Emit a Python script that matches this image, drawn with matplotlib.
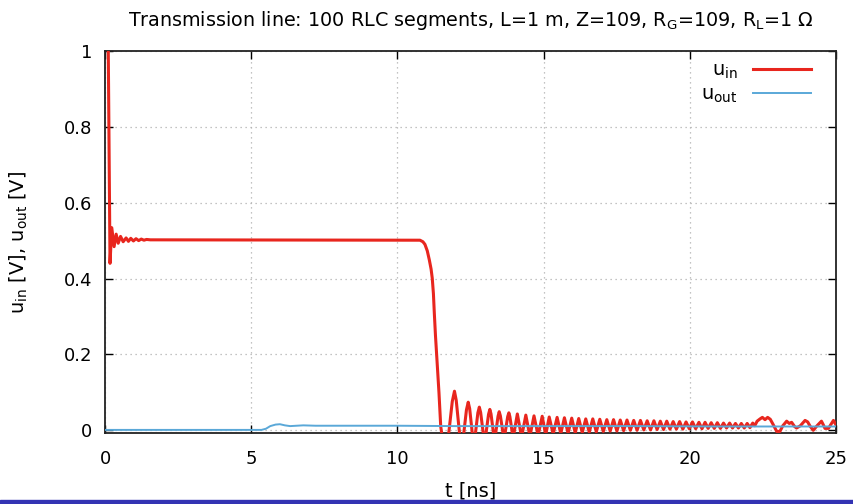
"""Transmission line step response: u_in and u_out over time."""

import matplotlib
matplotlib.use("Agg")
import matplotlib.pyplot as plt
from matplotlib.patches import Rectangle
from matplotlib.ticker import FuncFormatter


# start transient, plateau and falling edge of u_in (t in ns, u in V)
IN_T_HEAD = [0.02, 0.10, 0.17, 0.23, 0.31, 0.38, 0.45, 0.53, 0.62, 0.72,
             0.80, 0.88, 0.97, 1.06, 1.15, 1.24, 1.33, 1.42, 1.55,
             10.77, 10.87, 10.94, 11.02, 11.09, 11.15, 11.19, 11.23, 11.26, 11.30,
             11.34, 11.42, 11.48, 11.65]
IN_U_HEAD = [1.5, 1.1, 0.44, 0.534, 0.484, 0.517, 0.493, 0.511, 0.497, 0.507,
             0.498, 0.506, 0.499, 0.505, 0.500, 0.504, 0.501, 0.503, 0.502,
             0.501, 0.497, 0.490, 0.473, 0.449, 0.425, 0.401, 0.36, 0.31, 0.25,
             0.20, 0.099, 0.01, -0.08]

# ringing after the edge: peaks and the troughs that follow them
PEAK_T = [11.95, 12.42, 12.80, 13.16, 13.48, 13.81, 14.10, 14.39, 14.67, 14.95,
          15.19, 15.46, 15.71, 15.96, 16.20, 16.44, 16.68, 16.92, 17.16, 17.39,
          17.62, 17.85, 18.08, 18.31, 18.54, 18.77, 18.99, 19.21, 19.43, 19.65,
          19.87, 20.09, 20.31, 20.52, 20.73, 20.94, 21.15, 21.36, 21.56, 21.76,
          21.96, 22.15]
PEAK_U = [0.103, 0.074, 0.061, 0.055, 0.049, 0.046, 0.043, 0.040, 0.038, 0.037,
          0.035, 0.034, 0.033, 0.032, 0.031, 0.030, 0.030, 0.029, 0.028, 0.028,
          0.027, 0.027, 0.026, 0.026, 0.025, 0.025, 0.024, 0.024, 0.023, 0.023,
          0.022, 0.022, 0.021, 0.021, 0.020, 0.020, 0.019, 0.019, 0.018, 0.018,
          0.018, 0.019]
TROUGH_T = [12.19, 12.61, 12.98, 13.32, 13.645, 13.955, 14.245, 14.53, 14.81, 15.07,
            15.325, 15.585, 15.835, 16.08, 16.32, 16.56, 16.80, 17.04, 17.275, 17.505,
            17.735, 17.965, 18.195, 18.425, 18.655, 18.88, 19.10, 19.32, 19.54, 19.76,
            19.98, 20.20, 20.415, 20.625, 20.835, 21.045, 21.255, 21.46, 21.66, 21.86,
            22.055]
TROUGH_U = [-0.060, -0.045, -0.036, -0.030, -0.025, -0.021, -0.018, -0.016, -0.014, -0.012,
            -0.010, -0.009, -0.008, -0.007, -0.006, -0.005, -0.004, -0.003, -0.002, -0.002,
            -0.001, 0.000, 0.000, 0.001, 0.001, 0.002, 0.002, 0.003, 0.003, 0.003,
            0.004, 0.004, 0.004, 0.005, 0.005, 0.005, 0.006, 0.006, 0.006, 0.006,
            0.007]
# rounded shoulders of the first, tall lobes
SHOULDER_T = [11.875, 12.01, 12.36, 12.47, 12.75, 12.845, 13.115, 13.20,
              13.44, 13.52, 13.77, 13.845]
SHOULDER_U = [0.076, 0.079, 0.054, 0.057, 0.046, 0.047, 0.042, 0.043,
              0.037, 0.038, 0.036, 0.036]

# reflections arriving near the end of the window
IN_T_TAIL = [22.22, 22.30, 22.40, 22.48, 22.57, 22.66, 22.75, 22.85, 22.97, 23.08,
             23.18, 23.31, 23.40, 23.48, 23.58, 23.65, 23.78, 23.94, 24.03, 24.11,
             24.22, 24.35, 24.50, 24.56, 24.62, 24.74, 24.82, 24.91, 25.0]
IN_U_TAIL = [0.012, 0.024, 0.030, 0.034, 0.028, 0.034, 0.029, 0.015, -0.003, -0.003,
             0.012, 0.024, 0.018, 0.021, 0.010, 0.006, 0.012, 0.026, 0.022, 0.011,
             0.000, 0.012, 0.024, 0.015, 0.005, 0.005, 0.015, 0.026, 0.014]

OUT_T = [0.0, 5.35, 5.50, 5.65, 5.83, 5.98, 6.15, 6.33, 6.55, 6.78, 7.2, 8.0,
         10.0, 12.0, 15.0, 18.0, 21.0, 23.0, 25.0]
OUT_U = [0.001, 0.001, 0.004, 0.011, 0.015, 0.016, 0.013, 0.011, 0.012, 0.013, 0.012, 0.012,
         0.012, 0.011, 0.011, 0.011, 0.010, 0.010, 0.010]

TITLE = r"Transmission line: 100 RLC segments, L=1 m, Z=109, R$_\mathrm{G}$=109, R$_\mathrm{L}$=1 $\Omega$"
X_TICKS = [0, 5, 10, 15, 20, 25]
Y_TICKS = [0, 0.2, 0.4, 0.6, 0.8, 1]


def u_in_series():
    ring = sorted(zip(PEAK_T + TROUGH_T + SHOULDER_T, PEAK_U + TROUGH_U + SHOULDER_U))
    t = IN_T_HEAD + [p[0] for p in ring] + IN_T_TAIL
    u = IN_U_HEAD + [p[1] for p in ring] + IN_U_TAIL
    return t, u


def main():
    plt.rcParams["font.family"] = "DejaVu Sans"
    plt.rcParams["mathtext.default"] = "regular"
    fig = plt.figure(figsize=(8.54, 5.04), dpi=100)
    ax = fig.add_axes([0.123, 0.141, 0.856, 0.758])

    t_in, u_in = u_in_series()
    ax.plot(t_in, u_in, color="#e8261e", lw=2.2, label=r"u$_\mathrm{in}$", zorder=3)
    ax.plot(OUT_T, OUT_U, color="#5aa8d8", lw=1.4, label=r"u$_\mathrm{out}$", zorder=4)

    ax.set_xlim(0, 25); ax.set_ylim(-0.007, 1)
    ax.set_xticks(X_TICKS); ax.set_yticks(Y_TICKS)
    ax.yaxis.set_major_formatter(FuncFormatter(lambda v, _: f"{v:g}"))
    ax.tick_params(direction="in", length=6, width=1, top=True, right=True, labelsize=13)
    ax.tick_params(axis="x", pad=12); ax.tick_params(axis="y", pad=9)
    ax.grid(True, color="#b0b0b0", lw=0.9, linestyle=(0, (1, 3)))
    for spine in ax.spines.values():
        spine.set_linewidth(1.3); spine.set_color("#222222")

    ax.set_xlabel("t [ns]", fontsize=14)
    ax.xaxis.set_label_coords(0.5, -0.128)
    ax.set_ylabel(r"u$_\mathrm{in}$ [V], u$_\mathrm{out}$ [V]", fontsize=14)
    ax.yaxis.set_label_coords(-0.103, 0.5)
    ax.set_title(TITLE, fontsize=13.8, pad=18)
    ax.legend(loc="upper right", bbox_to_anchor=(0.977, 0.995), borderaxespad=0,
              frameon=False, markerfirst=False, fontsize=14,
              handlelength=3.0, labelspacing=0.2)

    fig.patches.append(Rectangle((0, 0), 1, 0.007, transform=fig.transFigure,
                                 color="#3333b3", zorder=0))
    fig.savefig("out.png", dpi=100)


if __name__ == "__main__":
    main()
